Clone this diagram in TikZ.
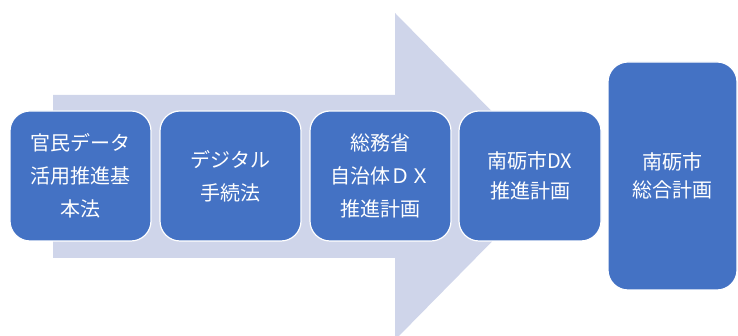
\documentclass[tikz,border=0pt]{standalone}
\usepackage{fontspec}
\newfontfamily\jpfont{Noto Sans CJK JP}
\usepackage{tikz}
\usetikzlibrary{positioning}
\definecolor{planblue}{HTML}{4472C4}
\definecolor{arrowgray}{HTML}{CFD5EA}
\tikzstyle{block} = [rectangle, draw=white, line width=1.2pt, fill=planblue, rounded corners=20pt,
                 text=white, align=center, minimum width=141pt, minimum height=130pt,
                 font=\jpfont\fontsize{20}{33}\selectfont]
\tikzset{
	bigblock/.style={block, minimum width=129pt, minimum height=228pt,
		font=\jpfont\fontsize{20}{28}\selectfont},
}
\begin{document}
\begin{tikzpicture}[x=1pt,y=1pt]

\useasboundingbox (0,0) rectangle (738,336);
\clip (0,0) rectangle (738,336);

% background arrow
\fill [arrowgray] (53,78) -- (53,241) -- (395,241) -- (395,323)
	-- (556,159.5) -- (395,-4) -- (395,78) -- cycle;

\node [block] at (80.5,160) (kanmin) {官民データ\\活用推進基\\本法};
\node [block] at (230.5,160) (tetsuzuki) {デジタル\\手続法};
\node [block] at (380.5,160) (soumu) {総務省\\自治体ＤＸ\\推進計画};
\node [block, minimum width=142pt, font=\jpfont\fontsize{20}{30}\selectfont]
	at (530,160) (nantodx) {南砺市DX\\推進計画};
\node [bigblock] at (672.5,160) (sougou) {南砺市\\総合計画};

\end{tikzpicture}
\end{document}
